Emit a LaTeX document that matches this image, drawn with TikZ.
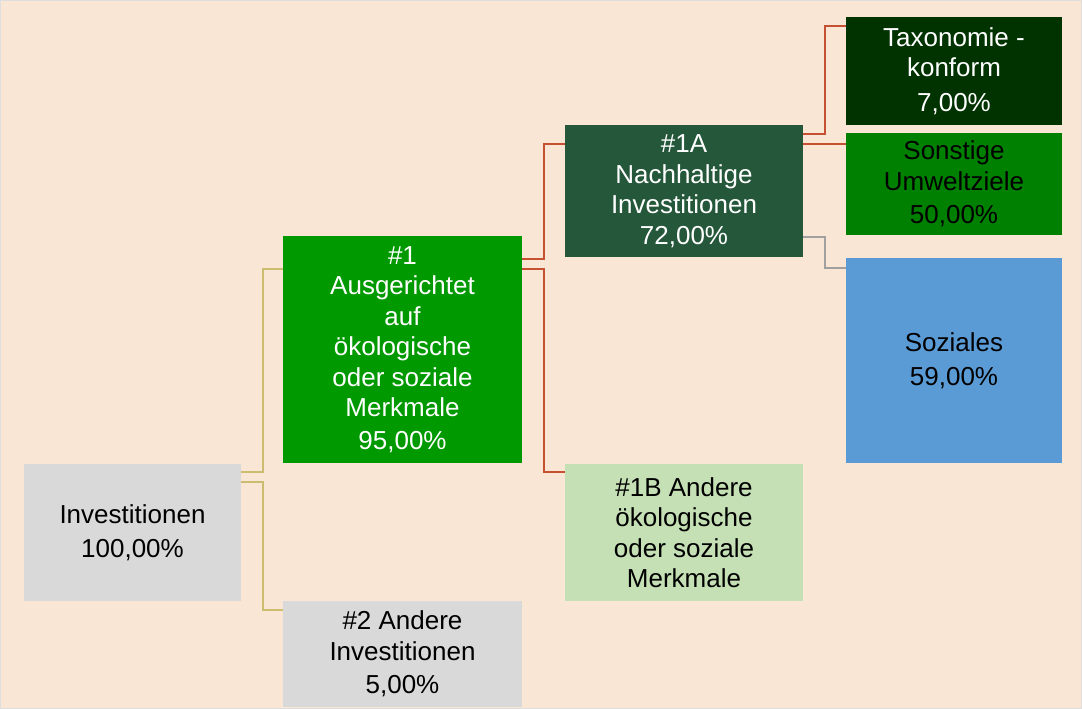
\documentclass[tikz,border=0pt]{standalone}
\usepackage{fontspec}
\setmainfont{Liberation Sans}
\definecolor{bgpeach}{RGB}{250,230,212}
\definecolor{boxgray}{RGB}{217,217,217}
\definecolor{greenA}{RGB}{0,153,0}
\definecolor{greenB}{RGB}{37,88,58}
\definecolor{greenLight}{RGB}{197,224,180}
\definecolor{greenDark}{RGB}{0,51,0}
\definecolor{greenMid}{RGB}{0,128,0}
\definecolor{blueSoz}{RGB}{91,155,213}
\definecolor{lineKhaki}{RGB}{203,188,112}
\definecolor{lineRed}{RGB}{197,80,50}
\definecolor{lineGray}{RGB}{160,160,160}
\definecolor{rimgray}{RGB}{222,222,222}
\tikzset{
  box/.style={rectangle, inner sep=0pt, align=center, font=\fontsize{26}{30.5}\selectfont},
  conn/.style={line width=2pt},
}
\begin{document}
\begin{tikzpicture}[x=1pt,y=-1pt]
\fill[bgpeach] (0,0) rectangle (1082,709);
\draw[rimgray, line width=1pt] (0.5,0.5) rectangle (1081.5,708.5);
\useasboundingbox (0,0) rectangle (1082,709);

\node[box, fill=boxgray, minimum width=217pt, minimum height=137pt] (inv) at (132.5,532.5) {Investitionen\\[3pt]100,00\%};
\node[box, fill=greenA, text=white, minimum width=239pt, minimum height=227pt] (n1) at (402.5,349.5) {\#1\\Ausgerichtet\\auf\\ökologische\\oder soziale\\Merkmale\\[2pt]95,00\%};
\node[box, fill=boxgray, minimum width=239pt, minimum height=106pt] (n2) at (402.5,654) {\#2 Andere\\Investitionen\\[3pt]5,00\%};
\node[box, fill=greenB, text=white, minimum width=238pt, minimum height=132pt] (n1a) at (684,191) {\#1A\\Nachhaltige\\Investitionen\\72,00\%};
\node[box, fill=greenLight, minimum width=238pt, minimum height=137pt] (n1b) at (684,532.5) {\#1B Andere\\ökologische\\oder soziale\\Merkmale};
\node[box, fill=greenDark, text=white, minimum width=216pt, minimum height=108pt] (tax) at (954,71) {Taxonomie -\\konform\\[4pt]7,00\%};
\node[box, fill=greenMid, minimum width=216pt, minimum height=102pt] (son) at (954,184) {Sonstige\\Umweltziele\\[3pt]50,00\%};
\node[box, fill=blueSoz, minimum width=216pt, minimum height=205pt] (soz) at (954,360.5) {Soziales\\[3pt]59,00\%};

\draw[conn, lineKhaki] (inv.east |- 0,472) -- (263,472) |- (n1.west |- 0,269);
\draw[conn, lineKhaki] (inv.east |- 0,482) -- (263,482) |- (n2.west |- 0,610);
\draw[conn, lineRed] (n1.east |- 0,259) -- (544,259) |- (n1a.west |- 0,144);
\draw[conn, lineRed] (n1.east |- 0,269) -- (544,269) |- (n1b.west |- 0,472);
\draw[conn, lineRed] (n1a.east |- 0,134) -- (825,134) |- (tax.west |- 0,26);
\draw[conn, lineRed] (n1a.east |- 0,144) -- (son.west |- 0,144);
\draw[conn, lineGray] (n1a.east |- 0,237) -- (825,237) |- (soz.west |- 0,268);
\end{tikzpicture}
\end{document}
